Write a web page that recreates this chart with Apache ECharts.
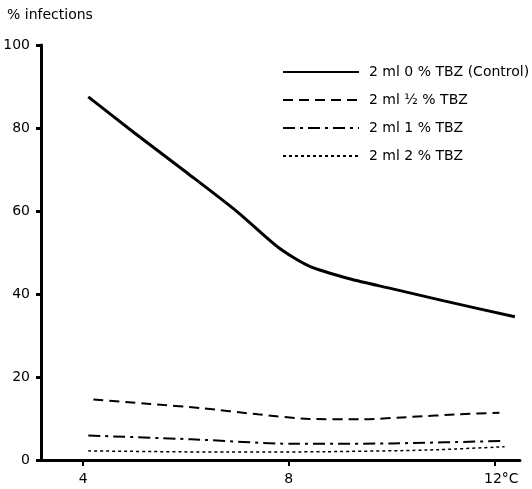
<!DOCTYPE html>
<html>
<head>
<meta charset="utf-8">
<script src="https://cdn.jsdelivr.net/npm/echarts@6/dist/echarts.min.js"></script>
<style>
    html, body { margin: 0; padding: 0; background: #fff; }
    #chart { width: 532px; height: 489px; }
</style>
</head>
<body>
<div id="chart"></div>
<script>
// values (temperature in °C, % infections)
var seriesNames = ['2 ml 0 % TBZ (Control)', '2 ml \u00bd % TBZ', '2 ml 1 % TBZ', '2 ml 2 % TBZ'];

var tempControl = [4.1, 5, 6, 7, 7.8, 8.4, 9.2, 10, 11, 12.4];
var infControl = [87.5, 78.8, 69.4, 59.8, 51.2, 46.7, 43.6, 41.3, 38.4, 34.5];

var tempHalf = [4.2, 5.3, 6.3, 7.4, 8.4, 9.4, 10.4, 11.3, 12.1];
var infHalf = [14.6, 13.5, 12.5, 11.0, 9.9, 9.8, 10.4, 11.0, 11.4];

var tempOne = [4.1, 6.1, 8.1, 10.0, 12.2];
var infOne = [5.9, 5.0, 3.9, 4.0, 4.6];

var tempTwo = [4.1, 6.8, 8.7, 10.7, 12.2];
var infTwo = [2.2, 1.9, 2.0, 2.4, 3.2];

var xTicks = [4, 8, 12];

function zip(xs, ys) {
    return xs.map(function (x, i) { return [x, ys[i]]; });
}

var font = 'DejaVu Sans';
var ink = '#000';

var chart = echarts.init(document.getElementById('chart'));

function lineSeries(name, data, width, dash) {
    return {
        name: name,
        type: 'line',
        data: data,
        smooth: 0.25,
        symbol: 'none',
        itemStyle: { color: ink },
        lineStyle: { color: ink, width: width, type: dash }
    };
}

chart.setOption({
    animation: false,
    color: [ink, ink, ink, ink],
    textStyle: { fontFamily: font, color: ink },
    title: {
        text: '% infections',
        left: 7,
        top: 8,
        padding: 0,
        textStyle: { fontFamily: font, fontSize: 14, fontWeight: 'normal', color: ink }
    },
    legend: {
        orient: 'vertical',
        left: 282,
        top: 65,
        padding: 0,
        itemWidth: 76,
        itemHeight: 14,
        itemGap: 14,
        data: seriesNames,
        itemStyle: { opacity: 0 },
        textStyle: { fontFamily: font, fontSize: 14, color: ink, padding: [0, 0, 0, 5] }
    },
    grid: { left: 41, right: 12, top: 45, bottom: 29 },
    xAxis: {
        type: 'value',
        min: 3.18,
        max: 12.5,
        splitLine: { show: false },
        axisLine: { lineStyle: { color: ink, width: 3 } },
        axisTick: {
            customValues: xTicks,
            length: 6,
            lineStyle: { color: ink, width: 2 }
        },
        axisLabel: {
            customValues: xTicks,
            margin: 12,
            fontFamily: font,
            fontSize: 14,
            color: ink,
            formatter: function (v) {
                return v === 12 ? '{u|12\u00b0C}' : String(v);
            },
            rich: {
                u: { fontFamily: font, fontSize: 14, color: ink, padding: [0, 0, 0, 14] }
            }
        }
    },
    yAxis: {
        type: 'value',
        min: 0,
        max: 100,
        interval: 20,
        splitLine: { show: false },
        axisLine: { show: true, lineStyle: { color: ink, width: 3 } },
        axisTick: { show: true, length: 5, lineStyle: { color: ink, width: 3 } },
        axisLabel: { margin: 11, fontFamily: font, fontSize: 14, color: ink }
    },
    series: [
        lineSeries(seriesNames[0], zip(tempControl, infControl), 3, 'solid'),
        lineSeries(seriesNames[1], zip(tempHalf, infHalf), 2, [10, 6]),
        lineSeries(seriesNames[2], zip(tempOne, infOne), 2, [12, 5, 3, 5]),
        lineSeries(seriesNames[3], zip(tempTwo, infTwo), 1.5, [3, 3])
    ]
});
</script>
</body>
</html>
